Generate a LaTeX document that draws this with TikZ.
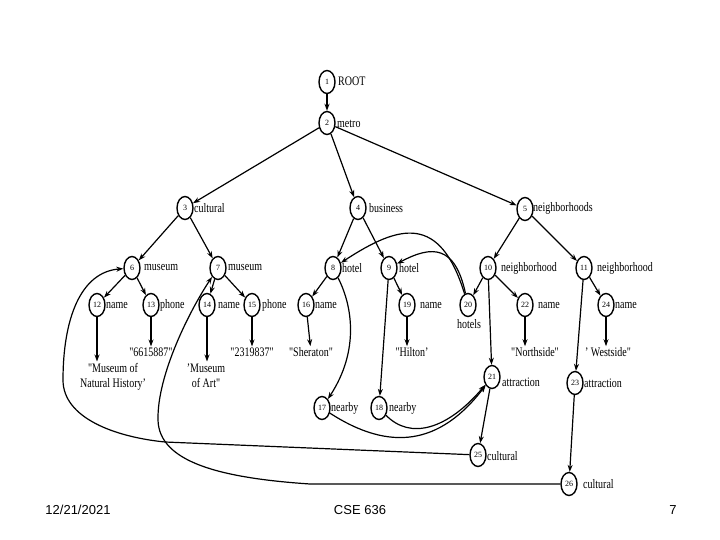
\documentclass[tikz,border=0pt]{standalone}
\usepackage{fontspec}
\usepackage{graphicx}
\setmainfont{Liberation Serif}
\newfontfamily\footfont{Liberation Sans}
\usetikzlibrary{shapes.geometric,arrows.meta}
\newcommand{\tallt}[1]{\scalebox{1}[1.3]{#1}}
\newcommand{\tallv}[1]{\scalebox{1}[1.3]{\begin{tabular}{@{}c@{}}#1\end{tabular}}}
\newcommand{\q}{\textquotedbl}
\begin{document}
\begin{tikzpicture}[x=1pt,y=-1pt,
 vtx/.style={ellipse,draw,line width=1.4pt,minimum width=16pt,minimum height=23pt,inner sep=0pt,font=\fontsize{8}{8}\selectfont},
 lab/.style={anchor=west,inner sep=0pt,font=\fontsize{10}{10}\selectfont},
 val/.style={inner sep=1pt,font=\fontsize{10}{11}\selectfont},
 edge/.style={line width=1.2pt,-{Stealth[length=7pt,width=5pt]}},
 foot/.style={inner sep=0pt,font=\footfont\fontsize{13}{13}\selectfont}]
\useasboundingbox (0,0) rectangle (720,540);
% nodes
\node[vtx] (n1) at (327,82) {1};
\node[vtx] (n2) at (327,123) {2};
\node[vtx] (n3) at (185,208) {3};
\node[vtx] (n4) at (358,208) {4};
\node[vtx] (n5) at (525,209) {5};
\node[vtx] (n6) at (132,268) {6};
\node[vtx] (n7) at (218,268) {7};
\node[vtx] (n8) at (333,268) {8};
\node[vtx] (n9) at (389,268) {9};
\node[vtx] (n10) at (488,268) {10};
\node[vtx] (n11) at (584,268) {11};
\node[vtx] (n12) at (97,305) {12};
\node[vtx] (n13) at (151,305) {13};
\node[vtx] (n14) at (207,305) {14};
\node[vtx] (n15) at (252,305) {15};
\node[vtx] (n16) at (306,305) {16};
\node[vtx] (n19) at (407,305) {19};
\node[vtx] (n20) at (468,305) {20};
\node[vtx] (n22) at (525,305) {22};
\node[vtx] (n24) at (606,305) {24};
\node[vtx] (n21) at (492,377) {21};
\node[vtx] (n23) at (575,383) {23};
\node[vtx] (n17) at (322,408) {17};
\node[vtx] (n18) at (379,408) {18};
\node[vtx] (n25) at (478,455) {25};
\node[vtx] (n26) at (569,484) {26};
% labels
\node[lab] (l1) at (338,81) {\tallt{ROOT}};
\node[lab] (l2) at (337,124) {\tallt{metro}};
\node[lab] (l3) at (194,208) {\tallt{cultural}};
\node[lab] (l4) at (369,208) {\tallt{business}};
\node[lab] (l5) at (533,208) {\tallt{neighborhoods}};
\node[lab] (l6) at (144,268) {\tallt{museum}};
\node[lab] (l7) at (228,268) {\tallt{museum}};
\node[lab] (l8) at (342,268) {\tallt{hotel}};
\node[lab] (l9) at (399,268) {\tallt{hotel}};
\node[lab] (l10) at (501,268) {\tallt{neighborhood}};
\node[lab] (l11) at (597,268) {\tallt{neighborhood}};
\node[lab] (l12) at (106,305) {\tallt{name}};
\node[lab] (l13) at (160,305) {\tallt{phone}};
\node[lab] (l14) at (218,305) {\tallt{name}};
\node[lab] (l15) at (262,305) {\tallt{phone}};
\node[lab] (l16) at (315,305) {\tallt{name}};
\node[lab] (l19) at (420,305) {\tallt{name}};
\node[lab] (l22) at (538,305) {\tallt{name}};
\node[lab] (l24) at (615,305) {\tallt{name}};
\node[lab,anchor=center] (l20) at (469,324) {\tallt{hotels}};
\node[lab] (l21) at (502,382) {\tallt{attraction}};
\node[lab] (l23) at (584,383) {\tallt{attraction}};
\node[lab] (l17) at (331,408) {\tallt{nearby}};
\node[lab] (l18) at (389,408) {\tallt{nearby}};
\node[lab] (l25) at (487,456) {\tallt{cultural}};
\node[lab] (l26) at (583,484) {\tallt{cultural}};
% values
\node[val] (t12) at (113,377) {\tallv{\q Museum of\\Natural History'}};
\node[val] (t13) at (151,352) {\tallt{\q 6615887\q}};
\node[val] (t14) at (206,377) {\tallv{'Museum\\of Art\q}};
\node[val] (t15) at (252,352) {\tallt{\q 2319837\q}};
\node[val] (t16) at (311,352) {\tallt{\q Sheraton\q}};
\node[val] (t19) at (412,352) {\tallt{\q Hilton'}};
\node[val] (t22) at (535,352) {\tallt{\q Northside\q}};
\node[val] (t24) at (608,352) {\tallt{' Westside\q}};
% tree edges
\draw[edge,line width=2.4pt] (n1) -- (n2);
\draw[edge] (n2) -- (n3);
\draw[edge] (n2) -- (n4);
\draw[edge] (n2) -- (n5);
\draw[edge] (n3) -- (n6);
\draw[edge] (n3) -- (n7);
\draw[edge] (n4) -- (n8);
\draw[edge] (n4) -- (n9);
\draw[edge] (n5) -- (n10);
\draw[edge] (n5) -- (n11);
\draw[edge] (n6) -- (n12);
\draw[edge] (n6) -- (n13);
\draw[edge] (n7) -- (n14);
\draw[edge] (n7) -- (n15);
\draw[edge] (n8) -- (n16);
\draw[edge] (n9) -- (n19);
\draw[edge] (n10) -- (n20);
\draw[edge] (n10) -- (n22);
\draw[edge] (n11) -- (n24);
\draw[edge] (n12) -- (n12 |- t12.north);
\draw[edge] (n13) -- (t13);
\draw[edge] (n14) -- (n14 |- t14.north);
\draw[edge] (n15) -- (t15);
\draw[edge] (n16) -- (t16);
\draw[edge] (n19) -- (n19 |- t19.north);
\draw[edge] (n22) -- (n22 |- t22.north);
\draw[edge] (n24) -- (n24 |- t24.north);
% reference edges
\draw[edge] (n10) -- (n21);
\draw[edge] (n11) -- (n23);
\draw[edge] (n23) -- (n26);
\draw[edge] (n21) -- (n25);
\draw[edge] (n9) -- (n18);
\draw[edge] (n20) .. controls (440,214) and (400,224) .. (n8);
\draw[edge] (n20) .. controls (455,245) and (432,245) .. (n9);
\draw[edge] (n8) .. controls (352,305) and (360,350) .. (n17);
\draw[edge] (n17) .. controls (390,452) and (440,445) .. (n21);
\draw[edge] (n18) .. controls (410,440) and (447,430) .. (n21);
\draw[edge] (n25) -- (165,442) .. controls (115,437) and (63,418) .. (63,380)
   .. controls (63,320) and (80,272) .. (n6);
\draw[edge] (n26) -- (310,484) .. controls (220,478) and (159,462) .. (158,420)
   .. controls (157,375) and (190,310) .. (n7);
% footer
\node[foot] (f1) at (78,510) {12/21/2021};
\node[foot] (f2) at (360,510) {CSE 636};
\node[foot] (f3) at (673,510) {7};
\end{tikzpicture}
\end{document}
